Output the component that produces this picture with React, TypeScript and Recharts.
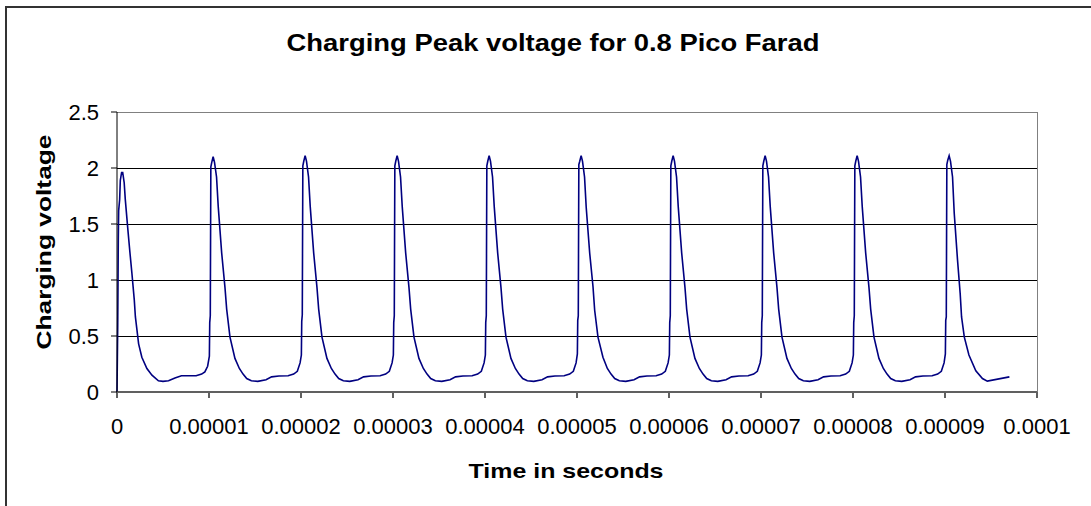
import { LineChart, Line, XAxis, YAxis, ReferenceLine } from "recharts"

// time in microseconds, charging voltage in volts, one pulse at a time
const cycle0 = [
  [0, 0], [0.04, 0.3], [0.08, 0.6], [0.14, 1.35], [0.18, 1.62], [0.29, 1.72], [0.36, 1.89], [0.5, 1.96],
  [0.62, 1.96], [0.78, 1.87], [0.9, 1.72], [1.16, 1.47], [1.4, 1.25], [1.62, 1.06], [1.88, 0.82], [2.0, 0.67],
  [2.35, 0.43], [2.7, 0.31], [3.25, 0.21], [3.8, 0.15], [4.5, 0.1], [5.0, 0.095], [5.6, 0.1], [6.3, 0.125],
  [7.0, 0.145], [8.6, 0.145], [9.2, 0.16], [9.55, 0.18], [9.85, 0.23],
]
const cycle1 = [
  [10.04, 0.32], [10.08, 0.62], [10.14, 0.68], [10.2, 2.01], [10.3, 2.05], [10.45, 2.1], [10.6, 2.05], [10.82, 1.92],
  [11.0, 1.66], [11.38, 1.24], [11.74, 0.93], [11.92, 0.74], [12.28, 0.49], [12.82, 0.3], [13.3, 0.21], [13.7, 0.16],
  [14.1, 0.12], [14.6, 0.1], [15.3, 0.095], [16.2, 0.11], [16.8, 0.135], [17.6, 0.143], [18.6, 0.145], [19.2, 0.16],
  [19.6, 0.185], [19.9, 0.26],
]
const cycle2 = [
  [20.04, 0.33], [20.08, 0.63], [20.14, 0.69], [20.2, 2.02], [20.3, 2.06], [20.45, 2.11], [20.6, 2.06], [20.82, 1.92],
  [21.0, 1.66], [21.38, 1.24], [21.74, 0.93], [21.92, 0.74], [22.28, 0.49], [22.82, 0.3], [23.3, 0.21], [23.7, 0.16],
  [24.1, 0.12], [24.6, 0.1], [25.3, 0.095], [26.2, 0.11], [26.8, 0.135], [27.6, 0.143], [28.6, 0.145], [29.2, 0.16],
  [29.6, 0.185], [29.9, 0.26],
]
const cycle3 = [
  [30.04, 0.33], [30.08, 0.62], [30.14, 0.68], [30.2, 2.02], [30.3, 2.06], [30.45, 2.11], [30.6, 2.06], [30.82, 1.92],
  [31.0, 1.66], [31.38, 1.24], [31.74, 0.93], [31.92, 0.74], [32.28, 0.49], [32.82, 0.3], [33.3, 0.21], [33.7, 0.16],
  [34.1, 0.12], [34.6, 0.1], [35.3, 0.095], [36.2, 0.11], [36.8, 0.135], [37.6, 0.143], [38.6, 0.145], [39.2, 0.16],
  [39.6, 0.185], [39.9, 0.26],
]
const cycle4 = [
  [40.04, 0.33], [40.08, 0.62], [40.14, 0.68], [40.2, 2.02], [40.3, 2.06], [40.45, 2.11], [40.6, 2.06], [40.82, 1.92],
  [41.0, 1.66], [41.38, 1.24], [41.74, 0.93], [41.92, 0.74], [42.28, 0.49], [42.82, 0.3], [43.3, 0.21], [43.7, 0.16],
  [44.1, 0.12], [44.6, 0.1], [45.3, 0.095], [46.2, 0.11], [46.8, 0.135], [47.6, 0.143], [48.6, 0.145], [49.2, 0.16],
  [49.6, 0.185], [49.9, 0.26],
]
const cycle5 = [
  [50.04, 0.34], [50.08, 0.64], [50.14, 0.68], [50.2, 2.03], [50.3, 2.06], [50.45, 2.11], [50.6, 2.06], [50.82, 1.92],
  [51.0, 1.65], [51.38, 1.24], [51.74, 0.94], [51.92, 0.73], [52.28, 0.49], [52.82, 0.31], [53.3, 0.21], [53.7, 0.16],
  [54.1, 0.12], [54.6, 0.1], [55.3, 0.095], [56.2, 0.11], [56.8, 0.135], [57.6, 0.143], [58.6, 0.145], [59.2, 0.16],
  [59.6, 0.185], [59.9, 0.26],
]
const cycle6 = [
  [60.04, 0.33], [60.08, 0.62], [60.14, 0.68], [60.2, 2.02], [60.3, 2.06], [60.45, 2.11], [60.6, 2.06], [60.82, 1.92],
  [61.0, 1.66], [61.38, 1.24], [61.74, 0.93], [61.92, 0.74], [62.28, 0.49], [62.82, 0.3], [63.3, 0.21], [63.7, 0.16],
  [64.1, 0.12], [64.6, 0.1], [65.3, 0.095], [66.2, 0.11], [66.8, 0.135], [67.6, 0.143], [68.6, 0.145], [69.2, 0.16],
  [69.6, 0.185], [69.9, 0.26],
]
const cycle7 = [
  [70.04, 0.33], [70.08, 0.62], [70.14, 0.68], [70.2, 2.02], [70.3, 2.06], [70.45, 2.11], [70.6, 2.06], [70.82, 1.92],
  [71.0, 1.66], [71.38, 1.24], [71.74, 0.93], [71.92, 0.74], [72.28, 0.49], [72.82, 0.3], [73.3, 0.21], [73.7, 0.16],
  [74.1, 0.12], [74.6, 0.1], [75.3, 0.095], [76.2, 0.11], [76.8, 0.135], [77.6, 0.143], [78.6, 0.145], [79.2, 0.16],
  [79.6, 0.185], [79.9, 0.26],
]
const cycle8 = [
  [80.04, 0.33], [80.08, 0.62], [80.14, 0.68], [80.2, 2.02], [80.3, 2.06], [80.45, 2.11], [80.6, 2.06], [80.82, 1.92],
  [81.0, 1.66], [81.38, 1.24], [81.74, 0.93], [81.92, 0.74], [82.28, 0.49], [82.82, 0.3], [83.3, 0.21], [83.7, 0.16],
  [84.1, 0.12], [84.6, 0.1], [85.3, 0.095], [86.2, 0.11], [86.8, 0.135], [87.6, 0.143], [88.6, 0.145], [89.2, 0.16],
  [89.6, 0.185], [89.9, 0.26],
]
const cycle9 = [
  [90.04, 0.34], [90.08, 0.64], [90.14, 0.67], [90.2, 2.03], [90.3, 2.07], [90.45, 2.11], [90.6, 2.06], [90.82, 1.92],
  [91.0, 1.6], [91.36, 1.18], [91.65, 0.88], [91.8, 0.67], [92.1, 0.49], [92.6, 0.33], [93.35, 0.19], [94.07, 0.12],
  [94.6, 0.097], [97.0, 0.135],
]

const xTicks = [0, 10, 20, 30, 40, 50, 60, 70, 80, 90, 100]
const xTickLabels = ["0", "0.00001", "0.00002", "0.00003", "0.00004", "0.00005", "0.00006", "0.00007", "0.00008", "0.00009", "0.0001"]
const yTicks = [0, 0.5, 1, 1.5, 2, 2.5]
const yTickLabels = ["0", "0.5", "1", "1.5", "2", "2.5"]
const gridValues = [0.5, 1, 1.5, 2]

const font = "'Liberation Sans', Arial, sans-serif"

export default function App() {
  const data = [...cycle0, ...cycle1, ...cycle2, ...cycle3, ...cycle4, ...cycle5, ...cycle6, ...cycle7, ...cycle8, ...cycle9].map(
    ([t, v]) => ({ t, v })
  )

  return (
    <div style={{ position: "fixed", left: 0, top: 0, width: 1091, height: 506, overflow: "hidden", background: "#fff" }}>
      <div style={{ position: "absolute", left: 5, top: 6, width: 1120, height: 540, border: "2px solid #333" }} />
      <div style={{ position: "absolute", left: 0, top: 0 }}>
        <LineChart width={1091} height={506} data={data} margin={{ top: 112, right: 54, left: 57, bottom: 84 }}>
          {gridValues.map((g) => (
            <ReferenceLine key={g} y={g} stroke="#000" strokeWidth={1} shapeRendering="crispEdges" />
          ))}
          <ReferenceLine y={2.5} stroke="#808080" strokeWidth={1} shapeRendering="crispEdges" />
          <ReferenceLine x={100} stroke="#808080" strokeWidth={1} shapeRendering="crispEdges" />
          <XAxis
            dataKey="t"
            type="number"
            domain={[0, 100]}
            ticks={xTicks}
            interval={0}
            height={30}
            stroke="#606060"
            strokeWidth={2}
            tickSize={6}
            tickMargin={20}
            tick={{ fill: "#000", fontSize: 22, fontFamily: font }}
            tickFormatter={(v: number) => xTickLabels[xTicks.indexOf(v)]}
          />
          <YAxis
            type="number"
            domain={[0, 2.5]}
            ticks={yTicks}
            interval={0}
            width={60}
            stroke="#000"
            tickSize={6}
            tickMargin={12}
            tick={{ fill: "#000", fontSize: 22, fontFamily: font }}
            tickFormatter={(v: number) => yTickLabels[yTicks.indexOf(v)]}
          />
          <Line type="linear" dataKey="v" stroke="#000080" strokeWidth={1.6} dot={false} isAnimationActive={false} />
        </LineChart>
      </div>
      <svg width={1091} height={506} style={{ position: "absolute", left: 0, top: 0, pointerEvents: "none" }}>
        <text x={553} y={51} textAnchor="middle" fontFamily={font} fontWeight="bold" fontSize={23} textLength={533} lengthAdjust="spacingAndGlyphs">
          Charging Peak voltage for 0.8 Pico Farad
        </text>
        <text x={566} y={478} textAnchor="middle" fontFamily={font} fontWeight="bold" fontSize={21} textLength={195} lengthAdjust="spacingAndGlyphs">
          Time in seconds
        </text>
        <text
          transform="translate(51, 242) rotate(-90)"
          x={0}
          y={0}
          textAnchor="middle"
          fontFamily={font}
          fontWeight="bold"
          fontSize={21}
          textLength={215}
          lengthAdjust="spacingAndGlyphs"
        >
          Charging voltage
        </text>
      </svg>
    </div>
  )
}
